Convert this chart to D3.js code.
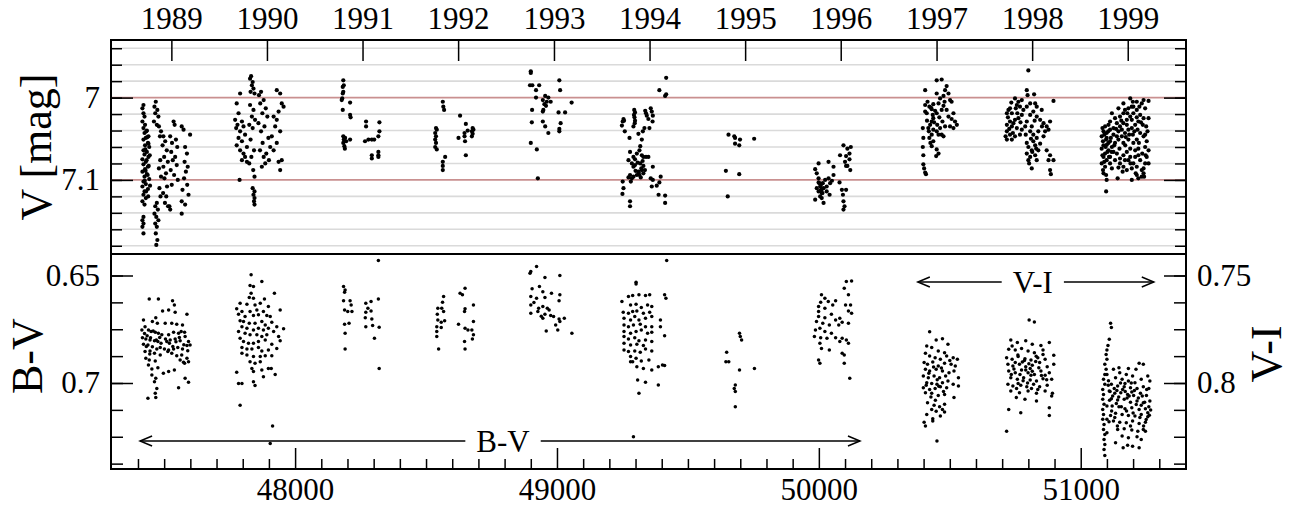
<!DOCTYPE html>
<html>
<head>
<meta charset="utf-8">
<script src="https://cdn.jsdelivr.net/npm/d3@7"></script>
<style>
  body { margin: 0; background: #fff; }
  svg text { font-family: "Liberation Serif", "Times New Roman", serif; fill: #000; }
</style>
</head>
<body>
<svg id="chart"></svg>
<script>
// ---- tick values / labels ----
const yearLabels = ["1989", "1990", "1991", "1992", "1993", "1994", "1995", "1996", "1997", "1998", "1999"];
const yearJD = [47527.5, 47892.5, 48257.5, 48622.5, 48988.5, 49353.5, 49718.5, 50083.5, 50449.5, 50814.5, 51179.5];
const jdMajor = [48000, 49000, 50000, 51000];
const jdMinor = [47400, 47500, 47600, 47700, 47800, 47900, 48100, 48200, 48300, 48400, 48500, 48600, 48700, 48800, 48900,
  49100, 49200, 49300, 49400, 49500, 49600, 49700, 49800, 49900, 50100, 50200, 50300, 50400, 50500, 50600, 50700, 50800, 50900,
  51100, 51200, 51300];
const vMajor = [7.0, 7.1];
const vGrid = [6.94, 6.96, 6.98, 7.0, 7.02, 7.04, 7.06, 7.08, 7.1, 7.12, 7.14, 7.16, 7.18];
const bvMajor = [0.65, 0.7];
const bvMinor = [0.65, 0.6625, 0.675, 0.6875, 0.7, 0.7125, 0.725, 0.7375];
const viMajor = [0.75, 0.8];
const viMinor = [0.75, 0.7625, 0.775, 0.7875, 0.8, 0.8125, 0.825, 0.8375];

// ---- V magnitudes [JD-2400000, V] ----
const v1989 = [[47421,7.009],[47417,7.013],[47421,7.019],[47425,7.023],[47417,7.029],[47427,7.033],[47421,7.037],[47434,7.040],[47425,7.043],[47440,7.047],[47430,7.049],[47421,7.051],[47438,7.055],[47427,7.058],[47443,7.060],[47421,7.064],[47434,7.066],[47425,7.069],[47440,7.072],[47417,7.075],[47430,7.078],[47421,7.081],[47438,7.084],[47427,7.087],[47417,7.090],[47434,7.093],[47425,7.096],[47443,7.099],[47421,7.102],[47430,7.105],[47417,7.108],[47438,7.111],[47425,7.114],[47421,7.118],[47430,7.122],[47417,7.126],[47425,7.130],[47421,7.145],[47417,7.149],[47421,7.153],[47417,7.157],[47421,7.165],
  [47432,7.041],[47436,7.048],[47440,7.056],[47428,7.063],[47445,7.070],[47433,7.076],[47441,7.083],[47429,7.089],[47437,7.094],[47426,7.101],[47446,7.107],[47431,7.114],[47439,7.120],
  [47468,7.005],[47463,7.011],[47474,7.015],[47466,7.019],[47478,7.023],[47461,7.029],[47472,7.033],[47480,7.035],[47488,7.041],[47484,7.047],
  [47472,7.128],[47466,7.132],[47476,7.136],[47463,7.141],[47470,7.145],[47478,7.149],[47466,7.153],[47472,7.157],[47468,7.165],[47474,7.173],[47470,7.179],
  [47485,7.076],[47480,7.086],[47488,7.096],[47482,7.110],[47486,7.120],
  [47497,7.047],[47504,7.053],[47494,7.058],[47510,7.064],[47500,7.072],[47514,7.078],[47497,7.084],[47507,7.092],[47501,7.098],[47511,7.108],[47496,7.116],[47508,7.120],[47503,7.128],[47515,7.132],
  [47536,7.029],[47540,7.033],[47523,7.047],[47545,7.051],[47530,7.055],[47550,7.060],[47527,7.066],[47542,7.072],[47533,7.076],[47548,7.082],[47525,7.088],[47538,7.094],[47552,7.100],[47529,7.106],[47520,7.132],[47523,7.136],
  [47567,7.035],[47574,7.039],[47599,7.045],[47580,7.060],[47587,7.068],[47578,7.078],[47590,7.084],[47583,7.090],[47576,7.098],[47588,7.106],[47570,7.112],[47593,7.118],[47567,7.126],[47580,7.130],[47567,7.141]];
const v1990 = [[47790,6.995],[47777,7.007],[47784,7.019],[47771,7.027],[47797,7.029],[47780,7.033],[47803,7.035],[47775,7.037],[47790,7.041],[47809,7.045],[47784,7.049],[47797,7.053],[47777,7.058],[47816,7.060],[47790,7.064],[47803,7.068],[47809,7.072],[47797,7.076],[47816,7.078],[47788,7.100],
  [47832,6.974],[47828,6.977],[47838,6.981],[47835,6.985],[47841,6.989],[47830,6.993],[47845,6.995],[47828,7.009],[47841,7.015],[47835,7.023],[47847,7.027],[47825,7.033],[47838,7.037],[47830,7.051],[47843,7.064],[47833,7.072],[47825,7.080],[47840,7.088],[47845,7.096],
  [47838,7.110],[47845,7.114],[47841,7.118],[47845,7.122],[47843,7.126],[47845,7.130],
  [47870,6.993],[47862,6.997],[47880,7.003],[47867,7.007],[47888,7.013],[47875,7.019],[47894,7.023],[47860,7.031],[47883,7.035],[47870,7.041],[47898,7.049],[47876,7.055],[47905,7.060],[47866,7.064],[47890,7.068],[47880,7.072],[47900,7.076],[47886,7.080],[47873,7.084],
  [47930,6.991],[47943,6.995],[47949,7.007],[47956,7.011],[47937,7.017],[47918,7.023],[47930,7.027],[47924,7.035],[47943,7.041],[47911,7.047],[47930,7.055],[47918,7.064],[47949,7.076],[47937,7.078],[47943,7.088]];
const v1991 = [[48184,6.979],[48186,6.985],[48182,6.987],[48184,6.993],[48182,6.995],[48180,7.001],[48178,7.003],[48210,7.006],[48182,7.015],[48210,7.021],[48212,7.024],[48184,7.047],[48191,7.049],[48186,7.051],[48195,7.053],[48184,7.055],[48188,7.059],[48190,7.062],[48210,7.051],
  [48271,7.029],[48271,7.035],[48322,7.030],[48322,7.041],[48318,7.047],[48280,7.051],[48293,7.051],[48302,7.051],[48267,7.053],[48318,7.066],[48318,7.070],[48318,7.072],[48293,7.074],[48293,7.070]];
const v1992 = [[48564,7.005],[48566,7.011],[48569,7.015],[48538,7.037],[48541,7.039],[48535,7.043],[48538,7.047],[48535,7.051],[48538,7.055],[48535,7.060],[48541,7.063],[48573,7.072],[48564,7.078],[48564,7.083],[48564,7.088],
  [48630,7.022],[48652,7.032],[48678,7.037],[48681,7.039],[48675,7.041],[48678,7.044],[48675,7.047],[48647,7.043],[48624,7.049],[48649,7.053],[48652,7.070],[48659,7.040],[48647,7.047]];
const v1993 = [[48900,6.968],[48900,6.970],[48897,6.985],[48906,6.985],[48932,6.985],[48920,6.991],[48920,7.000],[48955,6.998],[48967,7.000],[48946,7.003],[48961,7.005],[48976,7.005],[48952,7.008],[48958,7.010],[48948,7.015],[48946,7.017],[48905,7.015],[48904,7.030],[48946,7.029],[48955,7.035],[48967,7.043],[49009,6.979],[49012,6.991],[49056,7.006],[49006,7.018],[49031,7.018],[49014,7.031],[49009,7.038],[49009,7.041],[48900,7.055],[48923,7.063],[48927,7.098]];
const v1994 = [[49254,7.026],[49251,7.029],[49256,7.028],[49248,7.034],[49259,7.041],[49277,7.049],[49295,7.015],[49298,7.018],[49296,7.024],[49298,7.028],[49292,7.035],[49337,7.016],[49340,7.019],[49343,7.022],[49349,7.026],[49358,7.013],[49362,7.017],[49366,7.022],[49365,7.029],[49353,7.037],[49334,7.037],[49328,7.041],[49311,7.044],[49324,7.051],[49318,7.059],[49315,7.064],[49279,7.066],[49273,7.076],[49292,7.072],[49298,7.075],[49305,7.068],[49324,7.070],[49330,7.072],[49340,7.072],[49349,7.072],[49286,7.080],[49292,7.084],[49298,7.082],[49318,7.080],[49330,7.083],[49324,7.088],[49311,7.090],[49305,7.094],[49315,7.094],[49330,7.092],[49292,7.096],[49279,7.094],[49286,7.098],[49273,7.097],[49282,7.102],[49366,7.084],[49358,7.098],[49366,7.100],[49396,7.096],[49391,7.103],[49381,7.107],[49362,7.108],[49251,7.102],[49254,7.110],[49250,7.117],[49279,7.126],[49279,7.132],[49388,7.118],[49413,7.119],[49413,7.128],[49391,6.991],[49413,6.998],[49417,6.996],[49417,6.976],
  [49308,7.079],[49322,7.086],[49312,7.091],[49336,7.088],[49300,7.089],[49320,7.097],[49327,7.077],[49294,7.021],[49297,7.031]];
const v1995 = [[49655,7.045],[49677,7.047],[49680,7.049],[49699,7.051],[49680,7.056],[49696,7.058],[49753,7.050],[49645,7.089],[49696,7.093],[49652,7.120]];
const v1996 = [[49986,7.087],[49999,7.080],[49992,7.092],[49999,7.098],[50002,7.104],[50005,7.108],[50009,7.112],[50011,7.116],[50005,7.120],[49999,7.114],[50018,7.110],[50015,7.104],[50024,7.100],[50030,7.108],[50037,7.098],[50043,7.104],[50050,7.101],[50056,7.094],[50056,7.084],[50037,7.078],[50030,7.114],[50041,7.118],[50018,7.128],[49986,7.124],[50011,7.122],[49992,7.110],[49999,7.103],[50079,7.103],[50088,7.112],[50104,7.112],[50092,7.118],[50094,7.126],[50098,7.132],[50094,7.136],[50081,7.070],[50094,7.058],[50104,7.071],[50109,7.062],[50117,7.068],[50122,7.060],[50117,7.075],[50109,7.083],[50120,7.088],[50104,7.083],[50100,7.078],
  [50008,7.106],[50012,7.111],[50006,7.113],[50014,7.116]];
const v1997 = [[50406,6.991],[50450,6.979],[50469,6.978],[50488,6.986],[50482,6.991],[50495,6.995],[50476,6.998],[50463,7.001],[50450,6.995],[50501,7.003],[50507,7.005],[50415,7.005],[50406,7.009],[50422,7.011],[50437,7.008],[50431,7.014],[50457,7.007],[50476,7.010],[50488,7.015],[50406,7.017],[50412,7.019],[50435,7.021],[50450,7.019],[50469,7.015],[50495,7.023],[50507,7.026],[50520,7.029],[50527,7.033],[50514,7.037],[50501,7.035],[50437,7.025],[50431,7.029],[50425,7.033],[50397,7.037],[50418,7.037],[50437,7.039],[50450,7.041],[50457,7.045],[50469,7.045],[50476,7.047],[50431,7.045],[50422,7.049],[50437,7.053],[50399,7.049],[50397,7.060],[50431,7.059],[50450,7.063],[50457,7.068],[50448,7.071],[50399,7.070],[50399,7.081],[50402,7.086],[50406,7.091],[50409,7.093],[50514,7.019],[50482,7.035],[50463,7.037],
  [50428,7.012],[50444,7.016],[50460,7.024],[50440,7.030],[50420,7.041],[50452,7.033],[50472,7.029],[50480,7.005],[50426,7.055],[50413,7.028]];
const v1998 = [[50800,6.967],[50794,6.991],[50797,6.997],[50822,6.996],[50749,7.001],[50762,7.005],[50775,7.003],[50756,7.009],[50768,7.011],[50724,7.015],[50730,7.013],[50718,7.019],[50737,7.019],[50781,7.015],[50794,7.011],[50807,7.007],[50826,7.007],[50832,7.011],[50851,7.015],[50819,7.017],[50807,7.021],[50832,7.023],[50845,7.027],[50858,7.031],[50870,7.035],[50877,7.039],[50883,7.029],[50896,7.004],[50775,7.021],[50762,7.025],[50749,7.027],[50730,7.029],[50718,7.033],[50737,7.035],[50756,7.037],[50775,7.039],[50718,7.041],[50730,7.045],[50749,7.047],[50718,7.051],[50737,7.051],[50768,7.045],[50807,7.041],[50819,7.045],[50832,7.049],[50858,7.047],[50864,7.041],[50838,7.041],[50819,7.053],[50794,7.055],[50800,7.060],[50813,7.064],[50794,7.068],[50807,7.072],[50800,7.076],[50826,7.070],[50832,7.076],[50813,7.086],[50870,7.064],[50883,7.070],[50877,7.076],[50896,7.076],[50883,7.088],[50886,7.093],[50826,7.058],[50838,7.064],[50794,7.029],[50788,7.035],[50813,7.035],
  [50722,7.024],[50743,7.031],[50727,7.038],[50741,7.043],[50758,7.019],[50770,7.030],[50752,7.013],[50713,7.047],[50735,7.006],[50790,7.045],[50810,7.050],[50845,7.056],[50852,7.035],[50824,7.028],[50815,7.066],[50803,7.080],[50830,7.062]];
const v1999 = [[51189,7.001],[51199,7.005],[51195,7.011],[51182,7.013],[51169,7.015],[51144,7.013],[51163,7.019],[51150,7.023],[51119,7.019],[51131,7.025],[51138,7.031],[51112,7.029],[51106,7.033],[51093,7.035],[51087,7.041],[51099,7.043],[51080,7.047],[51112,7.039],[51125,7.037],[51150,7.035],[51163,7.031],[51176,7.027],[51189,7.023],[51201,7.019],[51214,7.015],[51233,7.007],[51259,7.004],[51246,7.013],[51227,7.021],[51240,7.025],[51259,7.025],[51220,7.029],[51208,7.033],[51195,7.037],[51182,7.039],[51169,7.043],[51157,7.047],[51144,7.051],[51131,7.055],[51119,7.060],[51106,7.064],[51093,7.068],[51087,7.072],[51099,7.076],[51112,7.080],[51093,7.084],[51080,7.080],[51087,7.092],[51097,7.094],[51099,7.100],[51097,7.114],[51119,7.086],[51144,7.085],[51163,7.084],[51182,7.076],[51201,7.080],[51195,7.086],[51214,7.084],[51233,7.088],[51240,7.092],[51246,7.080],[51252,7.072],[51259,7.064],[51246,7.060],[51252,7.053],[51240,7.047],[51227,7.043],[51214,7.051],[51201,7.055],[51189,7.062],[51176,7.066],[51163,7.070],[51150,7.074],[51138,7.068],[51125,7.066],[51112,7.053],[51099,7.049],[51087,7.058],[51080,7.062],[51106,7.055],[51138,7.047],[51163,7.055],[51182,7.051],[51208,7.064],[51220,7.070],[51227,7.076],[51214,7.094],[51233,7.096],[51195,7.100],[51220,7.098],[51242,7.096],[51240,7.086],[51259,7.080],[51255,7.041],[51250,7.035],[51237,7.033],[51217,7.039],[51199,7.045],[51176,7.033],[51157,7.039],[51144,7.041],[51125,7.045],[51097,7.051],[51112,7.072],[51131,7.076],[51150,7.080],[51169,7.076],[51189,7.072],[51208,7.072],[51220,7.062],[51246,7.045],[51163,7.007],[51178,7.019],[51195,7.027],[51214,7.024],[51224,7.011],[51240,7.003],[51214,7.005],[51201,7.011],[51141,7.098],[51176,7.088],
  [51083,7.037],[51090,7.045],[51085,7.053],[51095,7.060],[51102,7.066],[51083,7.070],[51090,7.078],[51105,7.041],[51115,7.049],[51100,7.057],[51108,7.072],[51085,7.088],[51118,7.066],[51128,7.058],[51135,7.038],[51148,7.062],[51155,7.028],[51170,7.058],[51185,7.045],[51205,7.041],[51222,7.055],[51235,7.068],[51248,7.070],[51190,7.080],[51210,7.092],[51160,7.090],[51230,7.030],[51172,7.048]];

// ---- B-V colours [JD-2400000, B-V] ----
const bv1989 = [[47443,0.6609],[47478,0.6609],[47532,0.6618],[47539,0.6637],[47517,0.6660],[47494,0.6665],[47587,0.6680],[47542,0.6671],[47468,0.6696],[47421,0.6707],[47455,0.6714],[47474,0.6722],[47504,0.6722],[47529,0.6722],[47548,0.6727],[47570,0.6730],[47427,0.6738],[47415,0.6753],[47440,0.6753],[47450,0.6761],[47466,0.6764],[47478,0.6769],[47491,0.6776],[47517,0.6776],[47536,0.6764],[47555,0.6769],[47578,0.6764],[47580,0.6784],[47417,0.6789],[47430,0.6795],[47446,0.6800],[47463,0.6804],[47476,0.6807],[47488,0.6815],[47510,0.6807],[47523,0.6800],[47542,0.6795],[47561,0.6804],[47593,0.6807],[47421,0.6820],[47438,0.6823],[47455,0.6831],[47472,0.6842],[47485,0.6835],[47501,0.6842],[47517,0.6846],[47536,0.6842],[47552,0.6835],[47570,0.6842],[47587,0.6826],[47599,0.6823],[47427,0.6854],[47446,0.6851],[47463,0.6862],[47514,0.6854],[47529,0.6862],[47548,0.6873],[47567,0.6870],[47430,0.6885],[47443,0.6893],[47466,0.6898],[47587,0.6885],[47593,0.6901],[47561,0.6893],[47578,0.6908],[47440,0.6916],[47453,0.6935],[47476,0.6929],[47497,0.6955],[47517,0.6947],[47539,0.6940],[47453,0.6963],[47468,0.6978],[47463,0.6994],[47580,0.6978],[47593,0.6997],[47555,0.7022],[47472,0.7025],[47466,0.7048],[47468,0.7068],[47438,0.7071],[47574,0.6904],
  [47425,0.6770],[47435,0.6780],[47448,0.6790],[47458,0.6758],[47470,0.6800],[47483,0.6788],[47505,0.6795],[47520,0.6815],[47533,0.6830],[47545,0.6808],[47558,0.6788],[47565,0.6760],[47575,0.6822],[47590,0.6850],[47432,0.6830],[47445,0.6865],[47485,0.6870]];
const bv1990 = [[47832,0.6497],[47873,0.6528],[47828,0.6547],[47841,0.6551],[47921,0.6582],[47832,0.6582],[47825,0.6602],[47841,0.6606],[47883,0.6609],[47790,0.6629],[47816,0.6634],[47847,0.6637],[47867,0.6629],[47898,0.6644],[47943,0.6660],[47777,0.6655],[47797,0.6668],[47828,0.6668],[47854,0.6660],[47879,0.6668],[47784,0.6680],[47809,0.6691],[47841,0.6686],[47860,0.6683],[47892,0.6686],[47905,0.6691],[47790,0.6711],[47803,0.6714],[47825,0.6722],[47847,0.6722],[47873,0.6714],[47886,0.6730],[47911,0.6717],[47797,0.6738],[47816,0.6745],[47841,0.6753],[47860,0.6745],[47879,0.6753],[47898,0.6745],[47930,0.6738],[47956,0.6748],[47784,0.6761],[47809,0.6769],[47828,0.6776],[47854,0.6776],[47873,0.6784],[47892,0.6776],[47918,0.6761],[47937,0.6784],[47790,0.6792],[47803,0.6807],[47822,0.6815],[47841,0.6815],[47860,0.6807],[47886,0.6800],[47911,0.6820],[47943,0.6804],[47797,0.6835],[47816,0.6842],[47835,0.6842],[47860,0.6835],[47873,0.6851],[47898,0.6846],[47930,0.6839],[47797,0.6862],[47816,0.6870],[47841,0.6877],[47867,0.6877],[47886,0.6873],[47911,0.6873],[47828,0.6901],[47847,0.6908],[47867,0.6901],[47835,0.6932],[47873,0.6940],[47898,0.6932],[47909,0.6932],[47841,0.6947],[47879,0.6971],[47924,0.6960],[47777,0.6950],[47784,0.7002],[47797,0.7002],[47841,0.6994],[47847,0.7012],[47790,0.7103],[47914,0.7200],[47905,0.7281]];
const bv1991 = [[48185,0.6551],[48191,0.6567],[48189,0.6578],[48185,0.6618],[48210,0.6618],[48214,0.6637],[48189,0.6660],[48201,0.6668],[48217,0.6668],[48189,0.6727],[48206,0.6722],[48191,0.6769],[48191,0.6842],[48270,0.6629],[48290,0.6621],[48318,0.6609],[48278,0.6652],[48270,0.6671],[48290,0.6665],[48268,0.6696],[48293,0.6702],[48270,0.6738],[48296,0.6733],[48321,0.6741],[48303,0.6792],[48321,0.6932],[48318,0.6430]];
const bv1992 = [[48567,0.6598],[48563,0.6624],[48545,0.6652],[48560,0.6652],[48543,0.6680],[48567,0.6668],[48545,0.6707],[48558,0.6717],[48571,0.6711],[48541,0.6738],[48558,0.6742],[48541,0.6761],[48541,0.6784],[48548,0.6842],[48630,0.6582],[48649,0.6559],[48639,0.6590],[48681,0.6637],[48649,0.6655],[48647,0.6668],[48624,0.6727],[48681,0.6714],[48649,0.6745],[48660,0.6753],[48675,0.6753],[48681,0.6776],[48677,0.6795],[48647,0.6807],[48649,0.6842]];
const bv1993 = [[48900,0.6481],[48922,0.6458],[48897,0.6489],[48954,0.6509],[49011,0.6500],[48933,0.6551],[48905,0.6562],[48946,0.6575],[48900,0.6598],[48922,0.6606],[48954,0.6602],[48979,0.6582],[49011,0.6590],[49008,0.6618],[48900,0.6637],[48930,0.6652],[48946,0.6644],[48963,0.6652],[48900,0.6675],[48927,0.6668],[48954,0.6680],[48976,0.6686],[48946,0.6699],[48987,0.6691],[49008,0.6702],[49028,0.6699],[49011,0.6714],[48959,0.6758],[49003,0.6753],[49057,0.6769],[48912,0.6625],[48940,0.6690],[48970,0.6660],[48995,0.6730]];
const bv1994 = [[49302,0.6531],[49302,0.6540],[49248,0.6621],[49273,0.6598],[49289,0.6593],[49313,0.6590],[49338,0.6593],[49354,0.6590],[49411,0.6590],[49416,0.6606],[49281,0.6637],[49302,0.6634],[49322,0.6649],[49346,0.6637],[49362,0.6644],[49253,0.6671],[49273,0.6675],[49289,0.6668],[49305,0.6665],[49330,0.6675],[49354,0.6671],[49256,0.6699],[49281,0.6707],[49297,0.6691],[49313,0.6707],[49338,0.6699],[49362,0.6691],[49395,0.6707],[49256,0.6730],[49273,0.6738],[49292,0.6730],[49318,0.6727],[49338,0.6738],[49362,0.6738],[49395,0.6738],[49256,0.6761],[49281,0.6769],[49302,0.6761],[49322,0.6753],[49346,0.6769],[49362,0.6764],[49411,0.6780],[49256,0.6784],[49273,0.6795],[49297,0.6789],[49313,0.6804],[49338,0.6800],[49362,0.6807],[49256,0.6815],[49281,0.6823],[49305,0.6820],[49330,0.6826],[49256,0.6846],[49273,0.6854],[49297,0.6851],[49318,0.6857],[49338,0.6842],[49362,0.6851],[49281,0.6877],[49302,0.6885],[49322,0.6898],[49351,0.6893],[49281,0.6901],[49289,0.6901],[49305,0.6924],[49330,0.6932],[49362,0.6940],[49387,0.6924],[49403,0.6916],[49411,0.6919],[49308,0.6986],[49338,0.6997],[49387,0.7009],[49313,0.7048],[49292,0.7250],[49419,0.6430]];
const bv1995 = [[49697,0.6769],[49700,0.6784],[49705,0.6800],[49648,0.6857],[49645,0.6901],[49656,0.6901],[49697,0.6940],[49754,0.6932],[49681,0.7009],[49677,0.7025],[49681,0.7040],[49681,0.7110]];
const bv1996 = [[50010,0.6590],[50023,0.6606],[50007,0.6624],[50036,0.6621],[50064,0.6618],[49999,0.6644],[50023,0.6652],[50053,0.6637],[49999,0.6668],[49999,0.6691],[50023,0.6696],[50048,0.6680],[50064,0.6707],[50080,0.6699],[50105,0.6528],[50125,0.6525],[50097,0.6559],[50113,0.6590],[50121,0.6637],[50113,0.6665],[50125,0.6675],[50102,0.6637],[49991,0.6714],[50015,0.6722],[50040,0.6730],[50076,0.6730],[50089,0.6717],[50113,0.6722],[50004,0.6745],[49987,0.6753],[50023,0.6761],[50048,0.6769],[49983,0.6784],[50007,0.6789],[50031,0.6792],[50064,0.6789],[50089,0.6792],[50004,0.6815],[50010,0.6839],[50040,0.6846],[50080,0.6807],[50105,0.6800],[50113,0.6815],[50097,0.6870],[50089,0.6862],[49999,0.6893],[50004,0.6908],[50097,0.6908],[50118,0.6978]];

// ---- V-I colours [JD-2400000, V-I] ----
const vi1997 = [[50423,0.7762],[50448,0.7800],[50472,0.7794],[50493,0.7820],[50412,0.7828],[50431,0.7835],[50456,0.7851],[50480,0.7859],[50407,0.7862],[50423,0.7874],[50444,0.7882],[50464,0.7890],[50488,0.7874],[50513,0.7882],[50529,0.7890],[50402,0.7905],[50415,0.7913],[50435,0.7902],[50456,0.7921],[50480,0.7908],[50505,0.7913],[50521,0.7921],[50407,0.7936],[50423,0.7944],[50448,0.7936],[50472,0.7944],[50497,0.7952],[50516,0.7944],[50399,0.7967],[50418,0.7975],[50440,0.7967],[50461,0.7975],[50484,0.7967],[50533,0.7975],[50412,0.7999],[50431,0.8002],[50451,0.8006],[50472,0.7999],[50493,0.7991],[50399,0.8022],[50423,0.8030],[50444,0.8026],[50464,0.8017],[50488,0.8022],[50513,0.8006],[50533,0.8014],[50407,0.8045],[50431,0.8048],[50456,0.8058],[50480,0.8053],[50516,0.8068],[50415,0.8092],[50440,0.8104],[50461,0.8110],[50480,0.8099],[50431,0.8123],[50448,0.8131],[50472,0.8123],[50412,0.8146],[50435,0.8166],[50464,0.8154],[50480,0.8135],[50402,0.8182],[50407,0.8200],[50435,0.8177],[50451,0.8270],
  [50420,0.7955],[50438,0.7925],[50452,0.7985],[50428,0.8065],[50445,0.8080],[50468,0.7930],[50410,0.8010],[50500,0.7895],[50476,0.8040],[50458,0.8015]];
const vi1998 = [[50803,0.7707],[50823,0.7716],[50733,0.7800],[50758,0.7812],[50790,0.7804],[50815,0.7820],[50848,0.7825],[50880,0.7812],[50725,0.7843],[50750,0.7846],[50774,0.7840],[50799,0.7851],[50823,0.7859],[50856,0.7867],[50897,0.7871],[50717,0.7882],[50738,0.7890],[50761,0.7877],[50787,0.7887],[50810,0.7893],[50836,0.7882],[50864,0.7890],[50722,0.7913],[50741,0.7921],[50766,0.7913],[50790,0.7924],[50815,0.7918],[50840,0.7929],[50872,0.7924],[50897,0.7913],[50725,0.7944],[50750,0.7952],[50774,0.7940],[50799,0.7952],[50823,0.7960],[50848,0.7944],[50880,0.7952],[50733,0.7975],[50758,0.7983],[50782,0.7975],[50807,0.7986],[50831,0.7991],[50856,0.7980],[50889,0.7983],[50722,0.8006],[50741,0.8014],[50771,0.8011],[50794,0.8017],[50820,0.8006],[50843,0.8017],[50872,0.8011],[50733,0.8037],[50766,0.8045],[50799,0.8037],[50831,0.8048],[50864,0.8037],[50892,0.8048],[50754,0.8068],[50787,0.8076],[50831,0.8084],[50889,0.8061],[50725,0.8123],[50771,0.8138],[50880,0.8115],[50880,0.8151],[50717,0.8224],[50750,0.7905],[50777,0.7902],[50807,0.7933],[50843,0.7905],[50864,0.7964],[50761,0.8002],[50810,0.7964],[50836,0.8030],[50738,0.7828],[50856,0.7846],
  [50745,0.7935],[50768,0.7960],[50785,0.7895],[50802,0.7910],[50815,0.7945],[50828,0.7900],[50850,0.7965],[50780,0.7990],[50797,0.8000],[50812,0.8025],[50760,0.7870],[50830,0.7875],[50870,0.7985],[50735,0.7960],[50755,0.8025],[50790,0.7940]];
const vi1999 = [[51114,0.7722],[51117,0.7742],[51109,0.7797],[51104,0.7825],[51100,0.7846],[51097,0.7867],[51100,0.7890],[51092,0.7913],[51097,0.7936],[51092,0.7960],[51087,0.7983],[51092,0.8006],[51084,0.8030],[51087,0.8053],[51084,0.8076],[51089,0.8099],[51084,0.8123],[51087,0.8146],[51084,0.8169],[51089,0.8193],[51087,0.8216],[51092,0.8239],[51089,0.8263],[51092,0.8286],[51089,0.8309],[51092,0.8337],[51100,0.8231],[51100,0.8169],[51100,0.8107],
  [51125,0.7936],[51149,0.7952],[51174,0.7960],[51198,0.7967],[51223,0.7908],[51239,0.7913],[51256,0.7967],[51133,0.7975],[51158,0.7983],[51182,0.7991],[51207,0.7999],[51231,0.7983],[51264,0.7991],[51117,0.8006],[51141,0.8014],[51166,0.8017],[51190,0.8022],[51215,0.8026],[51239,0.8017],[51260,0.8026],[51109,0.8037],[51130,0.8048],[51153,0.8045],[51179,0.8053],[51202,0.8058],[51228,0.8048],[51251,0.8058],[51117,0.8073],[51141,0.8079],[51166,0.8076],[51190,0.8089],[51215,0.8084],[51239,0.8092],[51264,0.8084],[51120,0.8107],[51146,0.8110],[51169,0.8120],[51195,0.8115],[51223,0.8123],[51247,0.8120],[51267,0.8126],[51133,0.8141],[51158,0.8146],[51182,0.8151],[51207,0.8154],[51231,0.8146],[51256,0.8157],[51125,0.8177],[51149,0.8182],[51174,0.8185],[51198,0.8177],[51223,0.8188],[51247,0.8182],[51141,0.8216],[51166,0.8213],[51195,0.8219],[51218,0.8224],[51239,0.8216],[51158,0.8247],[51182,0.8255],[51215,0.8250],[51231,0.8263],[51133,0.8278],[51179,0.8290],[51198,0.8294],[51223,0.8301],[51162,0.8301],[51247,0.8224],[51146,0.7929],[51182,0.7933],[51211,0.7936],[51169,0.8002],[51195,0.8042],[51231,0.8104],[51256,0.8138],[51136,0.8095],[51114,0.8151],
  [51105,0.8010],[51112,0.8040],[51122,0.8060],[51128,0.8025],[51138,0.8035],[51145,0.8065],[51152,0.8000],[51160,0.8030],[51170,0.8040],[51177,0.8070],[51185,0.8060],[51193,0.8000],[51205,0.8035],[51212,0.8100],[51220,0.8070],[51235,0.8060],[51244,0.8090],[51252,0.8030],[51260,0.8110],[51110,0.8080],[51118,0.8130],[51130,0.8160],[51155,0.8110],[51175,0.8130],[51200,0.8140],[51226,0.8160],[51250,0.8170],[51262,0.8150],[51108,0.8180],[51140,0.8200],[51190,0.8200],[51240,0.8200],[51100,0.7960],[51106,0.7990]];

// arrows marking which index is plotted in the lower panel
const arrowNotes = [
  { label: "B-V", from: 47408, to: 50157, level: 0.727, textAt: 48794, index: "bv" },
  { label: "V-I", from: 50378, to: 51279, level: 0.753, textAt: 50817, index: "vi" }
];

const vData = [].concat(v1989, v1990, v1991, v1992, v1993, v1994, v1995, v1996, v1997, v1998, v1999);
const bvData = [].concat(bv1989, bv1990, bv1991, bv1992, bv1993, bv1994, bv1995, bv1996);
const viData = [].concat(vi1997, vi1998, vi1999);

const W = 1293, H = 507;
const xL = 111, xR = 1186, yTop = 40, yMid = 254, yBot = 469;

const svg = d3.select("#chart").attr("width", W).attr("height", H);
svg.append("rect").attr("width", W).attr("height", H).attr("fill", "#fff");

const x = d3.scaleLinear().domain([47297, 51402]).range([xL, xR]);
const yV = d3.scaleLinear().domain([6.93, 7.19]).range([yTop, yMid]);
const yBV = d3.scaleLinear().domain([0.64, 0.74]).range([yMid, yBot]);
const yVI = d3.scaleLinear().domain([0.74, 0.84]).range([yMid, yBot]);

// grid of the V panel
svg.append("g").selectAll("line")
    .data(vGrid.filter(d => !vMajor.includes(d)))
    .join("line")
    .attr("x1", xL).attr("x2", xR)
    .attr("y1", d => yV(d)).attr("y2", d => yV(d))
    .attr("stroke", "#dadada").attr("stroke-width", 1.6);

svg.append("g").selectAll("line")
    .data(vMajor)
    .join("line")
    .attr("x1", xL).attr("x2", xR)
    .attr("y1", d => yV(d)).attr("y2", d => yV(d))
    .attr("stroke", "#c99090").attr("stroke-width", 1.6);

// points
const pts = svg.append("g").attr("fill", "#000");
pts.selectAll("circle.v").data(vData).join("circle").attr("class", "v")
    .attr("cx", d => x(d[0])).attr("cy", d => yV(d[1])).attr("r", 2.1);
pts.selectAll("circle.bv").data(bvData).join("circle").attr("class", "bv")
    .attr("cx", d => x(d[0])).attr("cy", d => yBV(d[1])).attr("r", 1.75);
pts.selectAll("circle.vi").data(viData).join("circle").attr("class", "vi")
    .attr("cx", d => x(d[0])).attr("cy", d => yVI(d[1])).attr("r", 1.75);

// axes (ticks point inward)
function styleAxis(g) {
    g.select(".domain").remove();
    g.attr("font-family", null).attr("font-size", null);
    g.selectAll("line").attr("stroke-width", 1.5);
    g.selectAll("text").attr("font-size", 31);
}

svg.append("g").attr("transform", `translate(${xL},0)`)
    .call(d3.axisLeft(yV).tickValues(vGrid).tickSize(-11).tickFormat("")).call(styleAxis);
svg.append("g").attr("transform", `translate(${xL},0)`)
    .call(d3.axisLeft(yV).tickValues(vMajor).tickSize(-22).tickPadding(11).tickFormat(d3.format("~g"))).call(styleAxis);
svg.append("g").attr("transform", `translate(${xR},0)`)
    .call(d3.axisRight(yV).tickValues(vGrid).tickSize(-11).tickFormat("")).call(styleAxis);
svg.append("g").attr("transform", `translate(${xR},0)`)
    .call(d3.axisRight(yV).tickValues(vMajor).tickSize(-22).tickFormat("")).call(styleAxis);

svg.append("g").attr("transform", `translate(${xL},0)`)
    .call(d3.axisLeft(yBV).tickValues(bvMinor).tickSize(-12).tickFormat("")).call(styleAxis);
svg.append("g").attr("transform", `translate(${xL},0)`)
    .call(d3.axisLeft(yBV).tickValues(bvMajor).tickSize(-22).tickPadding(11).tickFormat(d3.format("~g"))).call(styleAxis);
svg.append("g").attr("transform", `translate(${xR},0)`)
    .call(d3.axisRight(yVI).tickValues(viMinor).tickSize(-12).tickFormat("")).call(styleAxis);
svg.append("g").attr("transform", `translate(${xR},0)`)
    .call(d3.axisRight(yVI).tickValues(viMajor).tickSize(-22).tickPadding(11).tickFormat(d3.format("~g"))).call(styleAxis);

svg.append("g").attr("transform", `translate(0,${yTop})`)
    .call(d3.axisTop(x).tickValues(yearJD).tickSize(-21).tickPadding(11).tickFormat((d, i) => yearLabels[i])).call(styleAxis);

svg.append("g").attr("transform", `translate(0,${yBot})`)
    .call(d3.axisBottom(x).tickValues(jdMinor).tickSize(-10).tickFormat("")).call(styleAxis);
svg.append("g").attr("transform", `translate(0,${yBot})`)
    .call(d3.axisBottom(x).tickValues(jdMajor).tickSize(-21).tickPadding(9).tickFormat(d3.format("d"))).call(styleAxis);

// frames
svg.append("rect").attr("x", xL).attr("y", yTop).attr("width", xR - xL).attr("height", yMid - yTop)
    .attr("fill", "none").attr("stroke", "#000").attr("stroke-width", 2);
svg.append("rect").attr("x", xL).attr("y", yMid).attr("width", xR - xL).attr("height", yBot - yMid)
    .attr("fill", "none").attr("stroke", "#000").attr("stroke-width", 2);

// axis titles
svg.append("text").attr("transform", `translate(51,${(yTop + yMid) / 2}) rotate(-90)`)
    .attr("text-anchor", "middle").attr("font-size", 44).text("V [mag]");
svg.append("text").attr("transform", `translate(42,${yBV(0.6875)}) rotate(-90)`)
    .attr("text-anchor", "middle").attr("font-size", 44).text("B-V");
svg.append("text").attr("transform", `translate(1281,${yVI(0.7865)}) rotate(-90)`)
    .attr("text-anchor", "middle").attr("font-size", 44).text("V-I");

// arrow annotations
arrowNotes.forEach(a => {
    const y = (a.index === "bv" ? yBV : yVI)(a.level);
    const g = svg.append("g").attr("stroke", "#000").attr("stroke-width", 1.5).attr("fill", "none");
    const label = svg.append("text")
        .attr("x", x(a.textAt)).attr("y", y + 11)
        .attr("text-anchor", "middle").attr("font-size", 31).text(a.label);
    const w = label.node().getComputedTextLength();
    const x0 = x(a.from), x1 = x(a.to), c = x(a.textAt);
    g.append("line").attr("x1", x0).attr("x2", c - w / 2 - 11).attr("y1", y).attr("y2", y);
    g.append("line").attr("x1", c + w / 2 + 11).attr("x2", x1).attr("y1", y).attr("y2", y);
    g.append("path").attr("d", `M${x0 + 12},${y - 5}L${x0},${y}L${x0 + 12},${y + 5}`);
    g.append("path").attr("d", `M${x1 - 12},${y - 5}L${x1},${y}L${x1 - 12},${y + 5}`);
});
</script>
</body>
</html>
